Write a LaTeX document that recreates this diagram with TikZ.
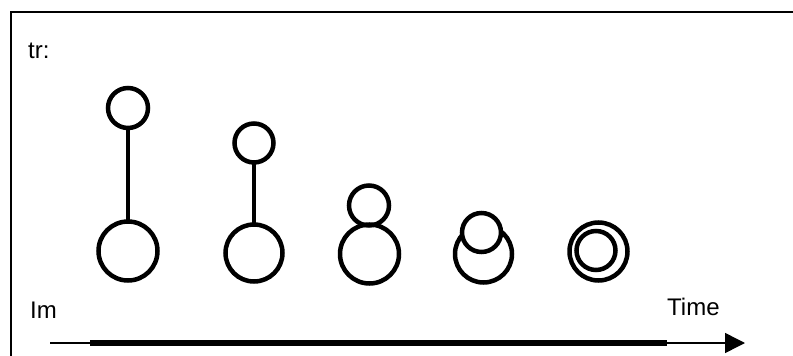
\documentclass[tikz,border=0pt]{standalone}
\usepackage{fontspec}
\setmainfont{Liberation Sans}
\usetikzlibrary{arrows.meta}
\begin{document}
\begin{tikzpicture}[x=1pt,y=-1pt,
  ring/.style={draw=black,circle,line width=4.5pt,inner sep=0pt,outer sep=0pt,minimum size=#1},
  stem/.style={draw=black,line width=4pt},
  lbl/.style={anchor=base west,inner sep=0pt,font=\fontsize{24}{28}\selectfont},
  frame/.style={draw=black,line width=2pt}]
\useasboundingbox (0,0) rectangle (793,356);
% frame
\coordinate (fb) at (11,357);
\coordinate (fc) at (11,11.5);
\coordinate (fr) at (794,11.5);
\draw[frame] (fb) -- (fc) -- (fr);
% labels
\node[lbl] (tr) at (28,58) {tr:};
\node[lbl] (im) at (30,318) {Im};
\node[lbl] (time) at (667,315) {Time};
% stage 1
\node[ring=40pt] (s1) at (128,108) {};
\node[ring=59pt] (b1) at (128,251) {};
\draw[stem] (s1.south) -- (b1.north);
% stage 2
\node[ring=39pt] (s2) at (254,143) {};
\node[ring=57pt] (b2) at (254,253) {};
\draw[stem] (s2.south) -- (b2.north);
% stage 3
\node[ring=59pt] (b3) at (369.5,254) {};
\node[ring=40pt] (s3) at (369,205.5) {};
% stage 4
\node[ring=57pt] (b4) at (483.5,254) {};
\node[ring=39pt,fill=white] (s4) at (481.5,232.5) {};
% stage 5
\node[ring=58pt] (b5) at (598.5,251.5) {};
\node[ring=39pt] (s5) at (596,250.5) {};
% time arrow
\coordinate (a0) at (50,343);
\coordinate (a1) at (745,343);
\coordinate (t0) at (90,343);
\coordinate (t1) at (667,343);
\draw[line width=1.5pt,-{Triangle[length=20pt,width=20pt]}] (a0) -- (a1);
\draw[line width=6pt] (t0) -- (t1);
\end{tikzpicture}
\end{document}
